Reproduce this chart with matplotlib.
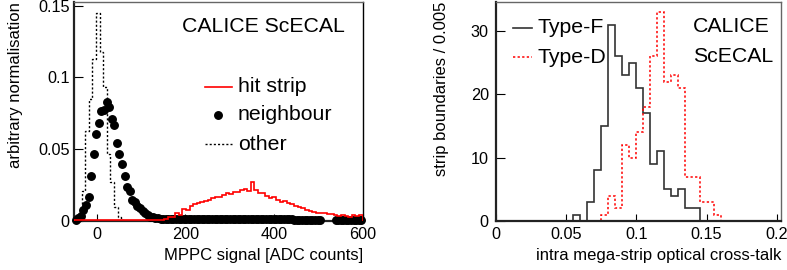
import numpy as np
import matplotlib.pyplot as plt

plt.rcParams['font.family'] = ['Liberation Sans', 'DejaVu Sans']

# ---- left panel: MPPC signal (80 bins from -50 to 600 for histograms) ----
adc_range = (-50, 600)

hit_strip = [0.0008] * 24 + [
    0.0010, 0.0015, 0.0030, 0.0030, 0.0058, 0.0044, 0.0085, 0.0080,
    0.0105, 0.0115, 0.0123, 0.0135, 0.0141, 0.0146, 0.0158, 0.0165,
    0.0170, 0.0181, 0.0193, 0.0190, 0.0204, 0.0200, 0.0216, 0.0220,
    0.0208, 0.0274, 0.0216, 0.0197, 0.0193, 0.0174, 0.0158, 0.0170,
    0.0146, 0.0135, 0.0141, 0.0123, 0.0120, 0.0105, 0.0095, 0.0088,
    0.0080, 0.0072, 0.0065, 0.0058, 0.0053, 0.0058, 0.0049, 0.0049,
    0.0042, 0.0037, 0.0042, 0.0037, 0.0028, 0.0042, 0.0032, 0.0045,
]

other = [
    0.0010, 0.0050, 0.0210, 0.0630, 0.0850, 0.1130, 0.1450, 0.1180,
    0.0930, 0.0470, 0.0270, 0.0100, 0.0030, 0.0008,
] + [0.0003] * 66

# neighbour: 112 bins from -50 to 600
neighbour = [
    0.0010, 0.0020, 0.0035, 0.0077, 0.0112, 0.0169, 0.0310, 0.0467,
    0.0606, 0.0680, 0.0767, 0.0775, 0.0827, 0.0797, 0.0709, 0.0669,
    0.0540, 0.0470, 0.0395, 0.0316, 0.0240, 0.0211, 0.0146, 0.0130,
    0.0107, 0.0088, 0.0070, 0.0053, 0.0042, 0.0030, 0.0025, 0.0020,
    0.0018, 0.0016, 0.0015,
    0.0014, 0.0013, 0.0013, 0.0012, 0.0012, 0.0012, 0.0012, 0.0012, 0.0012, 0.0012,
    0.0012, 0.0012, 0.0012, 0.0012, 0.0012, 0.0012, 0.0012, 0.0012, 0.0012, 0.0012,
    0.0011, 0.0011, 0.0011, 0.0011, 0.0011, 0.0011, 0.0011, 0.0011, 0.0011, 0.0011,
    0.0011, 0.0011, 0.0011, 0.0011, 0.0011, 0.0011, 0.0011, 0.0011, 0.0011, 0.0011,
    0.0011, 0.0011, 0.0011, 0.0011, 0.0011, 0.0011, 0.0011, 0.0011, 0.0011, 0.0011,
    0.0010, 0.0010, 0.0010, 0.0010, 0.0010, 0.0010, 0.0010, 0.0010, 0.0010, 0.0010, 0.0010,
    0, 0, 0, 0, 0,
    0.0010, 0.0010, 0.0010, 0.0010, 0.0010, 0.0010, 0.0010, 0.0010, 0.0010, 0.0010, 0.0010,
]

# ---- right panel: cross-talk, 40 bins of 0.005 ----
xt_range = (0.0, 0.2)
type_f = [0, 0, 0, 0, 0, 0, 0, 0, 0, 0, 0, 1, 0, 3, 8, 15, 31, 26, 23, 25,
          21, 17, 9, 11, 5, 4, 5, 2, 2, 0, 0, 0, 0, 0, 0, 0, 0, 0, 0, 0]
type_d = [0, 0, 0, 0, 0, 0, 0, 0, 0, 0, 0, 0, 0, 0, 0, 1, 4, 2, 12, 10,
          14, 18, 26, 33, 22, 23, 21, 7, 7, 3, 3, 1, 0, 0, 0, 0, 0, 0, 0, 0]

fig = plt.figure(figsize=(7.87, 2.70), dpi=100)
ax1 = fig.add_axes([0.094, 0.1815, 0.3672, 0.8111])
ax2 = fig.add_axes([0.6299, 0.1815, 0.3625, 0.8111])

# left panel
edges80 = np.linspace(*adc_range, len(hit_strip) + 1)
ax1.stairs(other, edges80, color='black', lw=1.0, linestyle=(0, (1.5, 1.5)))
edges_n = np.linspace(*adc_range, len(neighbour) + 1)
centres_n = 0.5 * (edges_n[:-1] + edges_n[1:])
nb = np.array(neighbour)
ax1.plot(centres_n[nb > 0], nb[nb > 0], 'o', ms=5.4, color='black',
         mec='black', clip_on=False, zorder=3)
ax1.stairs(hit_strip, edges80, color='red', lw=1.2, zorder=4)

ax1.set_xlim(-51, 601)
ax1.set_ylim(0, 0.1525)
ax1.set_xticks([0, 200, 400, 600])
ax1.set_yticks([0, 0.05, 0.1, 0.15])
ax1.set_yticklabels(['0', '0.05', '0.1', '0.15'])
ax1.set_xlabel('MPPC signal [ADC counts]', fontsize=12, loc='right')
ax1.set_ylabel('arbitrary normalisation', fontsize=12, loc='top')
ax1.xaxis.set_label_coords(1.0, -0.122)
ax1.yaxis.set_label_coords(-0.175, 1.0)
ax1.tick_params(axis='x', direction='in', length=4.8, labelsize=11.7, pad=4)
ax1.tick_params(axis='y', direction='in', length=6.5, labelsize=11.7, pad=3)

tr = ax1.transAxes
ax1.text(0.374, 0.863, 'CALICE ScECAL', fontsize=15.3, transform=tr)
ax1.plot([0.453, 0.547], [0.612, 0.612], color='red', lw=1.2, transform=tr)
ax1.text(0.567, 0.588, 'hit strip', fontsize=15.3, transform=tr)
ax1.plot([0.498], [0.484], 'o', ms=5.4, color='black', transform=tr)
ax1.text(0.567, 0.460, 'neighbour', fontsize=15.3, transform=tr)
ax1.plot([0.453, 0.547], [0.352, 0.352], color='black', lw=1.0,
         linestyle=(0, (1.5, 1.5)), transform=tr)
ax1.text(0.567, 0.324, 'other', fontsize=15.3, transform=tr)

# right panel
edges40 = np.linspace(*xt_range, len(type_f) + 1)
ax2.stairs(type_f, edges40, color='#333333', lw=1.2)
ax2.stairs(type_d, edges40, color='red', lw=1.1, linestyle=(0, (1.5, 1.5)))

ax2.set_xlim(0, 0.203)
ax2.set_ylim(0, 34.6)
ax2.set_xticks([0, 0.05, 0.1, 0.15, 0.2])
ax2.set_xticklabels(['0', '0.05', '0.1', '0.15', '0.2'])
ax2.set_yticks([0, 10, 20, 30])
ax2.set_xlabel('intra mega-strip optical cross-talk', fontsize=12, loc='right')
ax2.set_ylabel('strip boundaries / 0.005', fontsize=12, loc='top')
ax2.xaxis.set_label_coords(1.0, -0.122)
ax2.yaxis.set_label_coords(-0.165, 1.0)
ax2.tick_params(axis='x', direction='in', length=4.8, labelsize=11.7, pad=4)
ax2.tick_params(axis='y', direction='in', length=6.5, labelsize=11.7, pad=5)

tr = ax2.transAxes
ax2.plot([0.061, 0.127], [0.881, 0.881], color='#333333', lw=1.2, transform=tr)
ax2.text(0.145, 0.857, 'Type-F', fontsize=15.3, transform=tr)
ax2.plot([0.061, 0.127], [0.749, 0.749], color='red', lw=1.1,
         linestyle=(0, (1.5, 1.5)), transform=tr)
ax2.text(0.145, 0.722, 'Type-D', fontsize=15.3, transform=tr)
ax2.text(0.692, 0.863, 'CALICE', fontsize=15.3, transform=tr)
ax2.text(0.692, 0.727, 'ScECAL', fontsize=15.3, transform=tr)

for ax in (ax1, ax2):
    for side in ('top', 'right'):
        ax.spines[side].set_color('#666666')
        ax.spines[side].set_linewidth(1.0)
    for side in ('left', 'bottom'):
        ax.spines[side].set_color('#222222')
        ax.spines[side].set_linewidth(1.6)
ax1.spines['right'].set_color('black')

fig.savefig('out.png', dpi=100)
